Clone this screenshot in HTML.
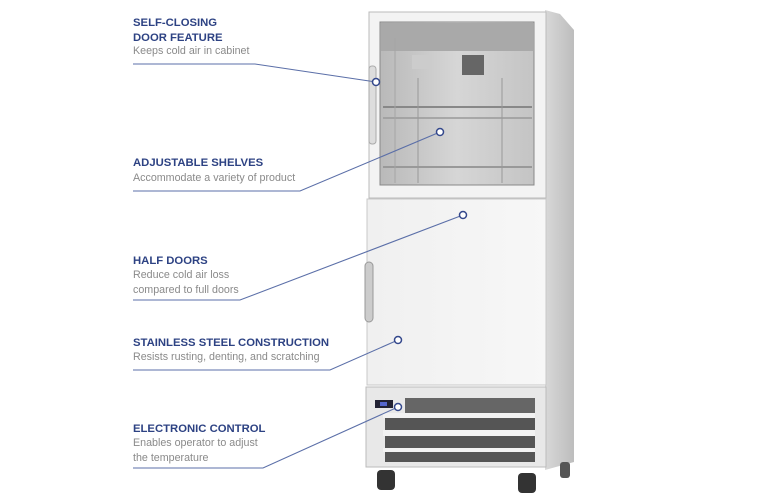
<!DOCTYPE html>
<html><head><meta charset="utf-8"><style>
body{margin:0;width:770px;height:500px;background:#fff;overflow:hidden;font-family:"Liberation Sans",Arial,sans-serif;position:relative}
.t{position:absolute;left:133px;color:#2d4283;font-weight:bold;font-size:11.3px;line-height:15px}
.d{position:absolute;left:133px;color:#8a8a8a;font-size:10.7px;line-height:15px}
</style></head><body>
<svg width="770" height="500" style="position:absolute;left:0;top:0">
<defs>
<linearGradient id="side" x1="0" x2="1"><stop offset="0" stop-color="#d8d8d8"/><stop offset="1" stop-color="#bdbdbd"/></linearGradient>
<linearGradient id="glass" x1="0" x2="1"><stop offset="0" stop-color="#b9b9b9"/><stop offset="0.5" stop-color="#d6d6d6"/><stop offset="1" stop-color="#c4c4c4"/></linearGradient>
<linearGradient id="door" x1="0" x2="1"><stop offset="0" stop-color="#f0f0f0"/><stop offset="1" stop-color="#f7f7f7"/></linearGradient>
</defs>
<polygon points="545,10 560,14 574,30 574,462 545,470" fill="url(#side)"/>
<rect x="369" y="12" width="177" height="186" fill="#f3f3f3" stroke="#bbb"/>
<rect x="380" y="22" width="154" height="163" fill="url(#glass)" stroke="#888"/>
<rect x="381" y="23" width="152" height="28" fill="#a9a9a9"/>
<rect x="462" y="55" width="22" height="20" fill="#666"/>
<rect x="412" y="55" width="20" height="14" fill="#ccc"/>
<line x1="383" y1="107" x2="532" y2="107" stroke="#888" stroke-width="2"/>
<line x1="383" y1="118" x2="532" y2="118" stroke="#999" stroke-width="1.5"/>
<line x1="383" y1="167" x2="532" y2="167" stroke="#999" stroke-width="2"/>
<line x1="418" y1="78" x2="418" y2="183" stroke="#999"/>
<line x1="502" y1="78" x2="502" y2="183" stroke="#999"/>
<line x1="395" y1="38" x2="395" y2="183" stroke="#a5a5a5"/>
<rect x="369" y="66" width="7" height="78" rx="3" fill="#ddd" stroke="#aaa"/>
<rect x="367" y="199" width="179" height="186" fill="url(#door)" stroke="#c8c8c8"/>
<rect x="365" y="262" width="8" height="60" rx="4" fill="#ccc" stroke="#999"/>
<rect x="366" y="387" width="180" height="80" fill="#e8e8e8" stroke="#bbb"/>
<rect x="375" y="400" width="18" height="8" fill="#223"/>
<rect x="380" y="402" width="7" height="4" fill="#5566cc"/>
<rect x="405" y="398" width="130" height="15" fill="#666"/>
<rect x="385" y="418" width="150" height="12" fill="#555"/>
<rect x="385" y="436" width="150" height="12" fill="#555"/>
<rect x="385" y="452" width="150" height="10" fill="#555"/>
<rect x="383" y="413" width="152" height="5" fill="#f2f2f2"/>
<rect x="383" y="430" width="152" height="6" fill="#f2f2f2"/>
<rect x="383" y="448" width="152" height="4" fill="#f2f2f2"/>
<rect x="377" y="470" width="18" height="20" rx="4" fill="#333"/>
<rect x="518" y="473" width="18" height="20" rx="4" fill="#333"/>
<rect x="560" y="462" width="10" height="16" rx="3" fill="#555"/>
<g fill="none" stroke="#5b6fa8" stroke-width="1.1">
<polyline points="133,64 255,64 376,82"/>
<polyline points="133,191 300,191 440,132"/>
<polyline points="133,300 240,300 463,215"/>
<polyline points="133,370 330,370 398,340"/>
<polyline points="133,468 263,468 398,407"/>
</g>
<g fill="#fff" stroke="#34488c" stroke-width="1.5">
<circle cx="376" cy="82" r="3.5"/><circle cx="440" cy="132" r="3.5"/><circle cx="463" cy="215" r="3.5"/><circle cx="398" cy="340" r="3.5"/><circle cx="398" cy="407" r="3.5"/>
</g>
</svg>
<div class="t" style="top:16px">SELF-CLOSING<br>DOOR FEATURE</div>
<div class="d" style="top:44px">Keeps cold air in cabinet</div>
<div class="t" style="top:156px">ADJUSTABLE SHELVES</div>
<div class="d" style="top:171px">Accommodate a variety of product</div>
<div class="t" style="top:254px">HALF DOORS</div>
<div class="d" style="top:268px">Reduce cold air loss<br>compared to full doors</div>
<div class="t" style="top:336px">STAINLESS STEEL CONSTRUCTION</div>
<div class="d" style="top:350px">Resists rusting, denting, and scratching</div>
<div class="t" style="top:422px">ELECTRONIC CONTROL</div>
<div class="d" style="top:436px">Enables operator to adjust<br>the temperature</div>
</body></html>
